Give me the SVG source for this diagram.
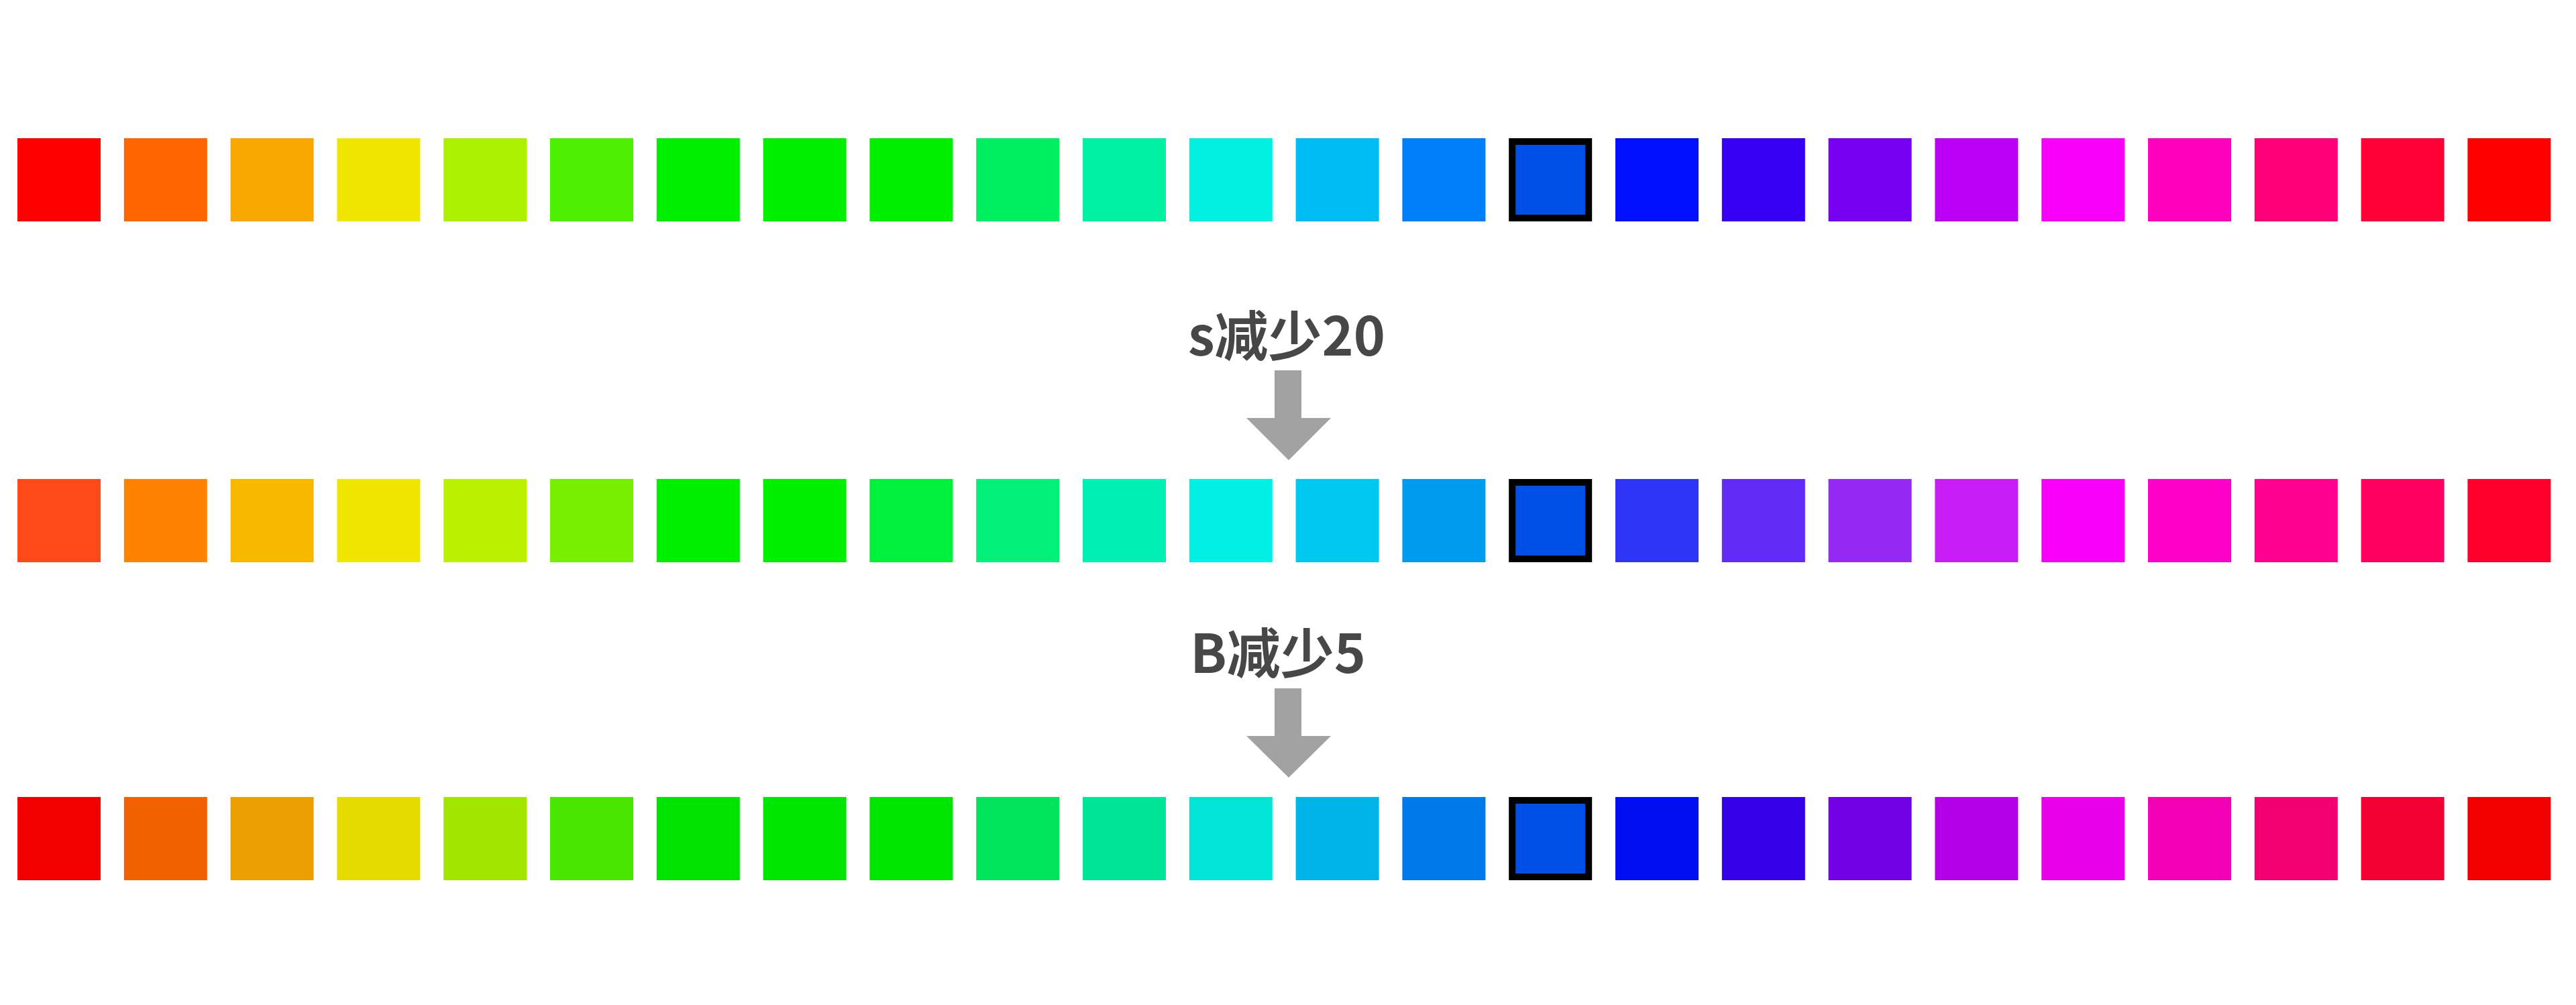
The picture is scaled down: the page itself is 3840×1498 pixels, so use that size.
<svg xmlns="http://www.w3.org/2000/svg" width="3840" height="1498" viewBox="0 0 3840 1498">
<style>
.lbl{font-family:"Noto Sans CJK SC","Noto Sans",sans-serif;font-weight:bold;font-size:80px;fill:#474747;text-anchor:middle}
.arr{fill:#a2a2a2}
.sel{stroke:#000;stroke-width:10}
</style>
<rect width="3840" height="1498" fill="#fff"/>
<g id="row1" transform="translate(26,206)">
<rect x="0" width="124" height="124" fill="#FF0000"/>
<rect x="158.8" width="124" height="124" fill="#FF6600"/>
<rect x="317.6" width="124" height="124" fill="#F8A800"/>
<rect x="476.4" width="124" height="124" fill="#F0E600"/>
<rect x="635.2" width="124" height="124" fill="#AAF000"/>
<rect x="794" width="124" height="124" fill="#4CF000"/>
<rect x="952.8" width="124" height="124" fill="#00F000"/>
<rect x="1111.6" width="124" height="124" fill="#00F000"/>
<rect x="1270.4" width="124" height="124" fill="#00F000"/>
<rect x="1429.2" width="124" height="124" fill="#00F060"/>
<rect x="1588" width="124" height="124" fill="#00F0A2"/>
<rect x="1746.8" width="124" height="124" fill="#00F0E2"/>
<rect x="1905.6" width="124" height="124" fill="#00BCF5"/>
<rect x="2064.4" width="124" height="124" fill="#0080F8"/>
<rect class="sel" x="2228.2" y="5" width="114" height="114" fill="#0050E8"/>
<rect x="2382" width="124" height="124" fill="#0010FF"/>
<rect x="2540.8" width="124" height="124" fill="#3700F5"/>
<rect x="2699.6" width="124" height="124" fill="#7800F0"/>
<rect x="2858.4" width="124" height="124" fill="#BC00F5"/>
<rect x="3017.2" width="124" height="124" fill="#F800F8"/>
<rect x="3176" width="124" height="124" fill="#FF00BC"/>
<rect x="3334.8" width="124" height="124" fill="#FF0078"/>
<rect x="3493.6" width="124" height="124" fill="#FF0035"/>
<rect x="3652.4" width="124" height="124" fill="#FF0000"/>
</g>
<g id="row2" transform="translate(26,714)">
<rect x="0" width="124" height="124" fill="#FF4A18"/>
<rect x="158.8" width="124" height="124" fill="#FF8300"/>
<rect x="317.6" width="124" height="124" fill="#F8B800"/>
<rect x="476.4" width="124" height="124" fill="#F0E600"/>
<rect x="635.2" width="124" height="124" fill="#BBF000"/>
<rect x="794" width="124" height="124" fill="#76F000"/>
<rect x="952.8" width="124" height="124" fill="#00F000"/>
<rect x="1111.6" width="124" height="124" fill="#00F000"/>
<rect x="1270.4" width="124" height="124" fill="#00F03C"/>
<rect x="1429.2" width="124" height="124" fill="#00F078"/>
<rect x="1588" width="124" height="124" fill="#00F0B4"/>
<rect x="1746.8" width="124" height="124" fill="#00F0E6"/>
<rect x="1905.6" width="124" height="124" fill="#00C8F0"/>
<rect x="2064.4" width="124" height="124" fill="#009CF0"/>
<rect class="sel" x="2228.2" y="5" width="114" height="114" fill="#0050E8"/>
<rect x="2382" width="124" height="124" fill="#2E35F5"/>
<rect x="2540.8" width="124" height="124" fill="#602CF5"/>
<rect x="2699.6" width="124" height="124" fill="#962AF5"/>
<rect x="2858.4" width="124" height="124" fill="#C81CF5"/>
<rect x="3017.2" width="124" height="124" fill="#F800F8"/>
<rect x="3176" width="124" height="124" fill="#FF00C8"/>
<rect x="3334.8" width="124" height="124" fill="#FF0090"/>
<rect x="3493.6" width="124" height="124" fill="#FF0060"/>
<rect x="3652.4" width="124" height="124" fill="#FF002C"/>
</g>
<g id="row3" transform="translate(26,1188)">
<rect x="0" width="124" height="124" fill="#F20000"/>
<rect x="158.8" width="124" height="124" fill="#F26100"/>
<rect x="317.6" width="124" height="124" fill="#EC9F00"/>
<rect x="476.4" width="124" height="124" fill="#E6DB00"/>
<rect x="635.2" width="124" height="124" fill="#A2E600"/>
<rect x="794" width="124" height="124" fill="#48E600"/>
<rect x="952.8" width="124" height="124" fill="#00E300"/>
<rect x="1111.6" width="124" height="124" fill="#00E600"/>
<rect x="1270.4" width="124" height="124" fill="#00E600"/>
<rect x="1429.2" width="124" height="124" fill="#00E55B"/>
<rect x="1588" width="124" height="124" fill="#00E598"/>
<rect x="1746.8" width="124" height="124" fill="#00E5D5"/>
<rect x="1905.6" width="124" height="124" fill="#00B3E8"/>
<rect x="2064.4" width="124" height="124" fill="#007AEB"/>
<rect class="sel" x="2228.2" y="5" width="114" height="114" fill="#0050E8"/>
<rect x="2382" width="124" height="124" fill="#000FF2"/>
<rect x="2540.8" width="124" height="124" fill="#3400E8"/>
<rect x="2699.6" width="124" height="124" fill="#7200E4"/>
<rect x="2858.4" width="124" height="124" fill="#B300E8"/>
<rect x="3017.2" width="124" height="124" fill="#EB00EB"/>
<rect x="3176" width="124" height="124" fill="#F200B3"/>
<rect x="3334.8" width="124" height="124" fill="#F20072"/>
<rect x="3493.6" width="124" height="124" fill="#F20032"/>
<rect x="3652.4" width="124" height="124" fill="#F20000"/>
</g>
<g id="step1">
<text class="lbl" x="1918" y="530">s减少20</text>
</g>
<g id="step2">
<text class="lbl" x="1905" y="1003">B减少5</text>
</g>
<g id="connectors">
<polygon class="arr" points="1900,552 1940,552 1940,623 1984,623 1921,686 1858,623 1900,623"/>
<polygon class="arr" points="1900,1026 1940,1026 1940,1097 1984,1097 1921,1159 1858,1097 1900,1097"/>
</g>
</svg>
